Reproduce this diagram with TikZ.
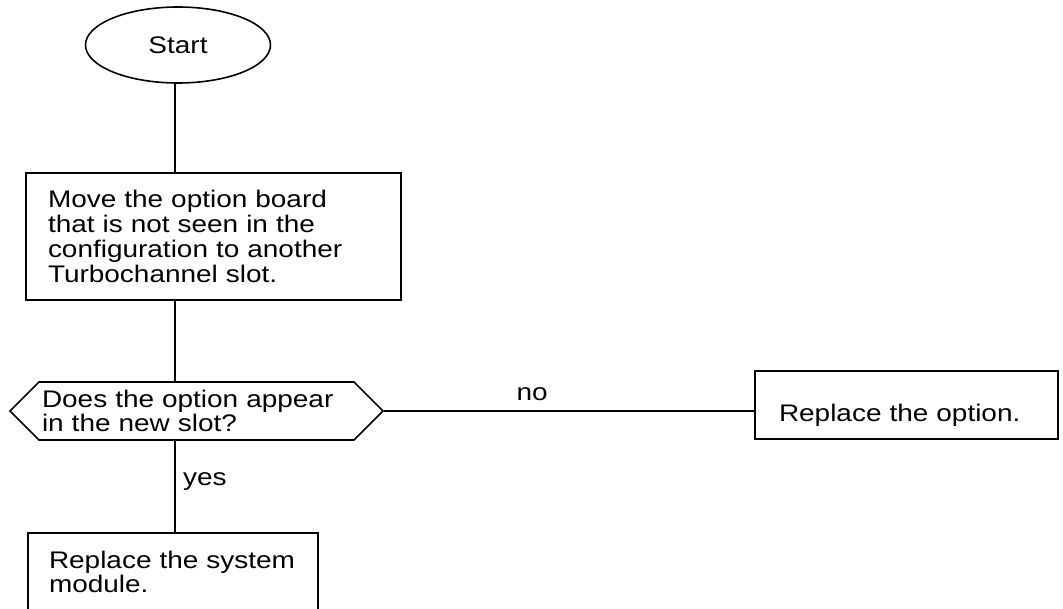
\documentclass[tikz,border=0pt]{standalone}
\usepackage{fontspec}
\setmainfont{Liberation Sans}[FakeStretch=1.165]
\usetikzlibrary{shapes.geometric, shapes.symbols}

\begin{document}
\begin{tikzpicture}[x=1pt, y=-1pt, line width=1.6pt,
  every node/.style={font=\fontsize{24}{23.5}\selectfont},
  box/.style={draw, rectangle, align=left, inner xsep=22pt}]
  \clip (0, 0) rectangle (1063, 609);
  \coordinate (trunk) at (175, 0);

  % draw start and first step
  \node[draw, ellipse, minimum width=185pt, minimum height=76pt, inner sep=0pt] (start) at (178, 45) {Start};
  \node[box, font=\fontsize{24}{25}\selectfont, text width=331pt, minimum height=127pt] (move) at (213.5, 236.5) {Move the option board\\that is not seen in the\\configuration to another\\Turbochannel slot.};

  % draw question
  \node[draw, signal, signal to=west and east, signal pointer angle=90, text width=309pt, align=left, inner xsep=3pt, minimum height=58pt] (ask) at (196.5, 411) {Does the option appear\\in the new slot?};

  % draw answers
  \node[box, text width=255pt, inner xsep=24pt, minimum height=68pt, text height=36pt, text depth=4pt] (option) at (906.5, 405) {Replace the option.};
  \node[box, anchor=north, text width=248pt, inner xsep=21pt, inner ysep=10pt, text height=26pt, text depth=100pt] (system) at (173, 532) {Replace the system\\module.};

  % draw lines
  \draw (start.south -| trunk) -- (move.north -| trunk);
  \draw (move.south -| trunk) -- (ask.north -| trunk);
  \draw (ask.east) -- node[pos=0.4, above=6.5pt] {no} (ask.east -| option.west);
  \draw (ask.south -| trunk) -- node[pos=0.45, right=4pt] {yes} (system.north -| trunk);
\end{tikzpicture}
\end{document}
